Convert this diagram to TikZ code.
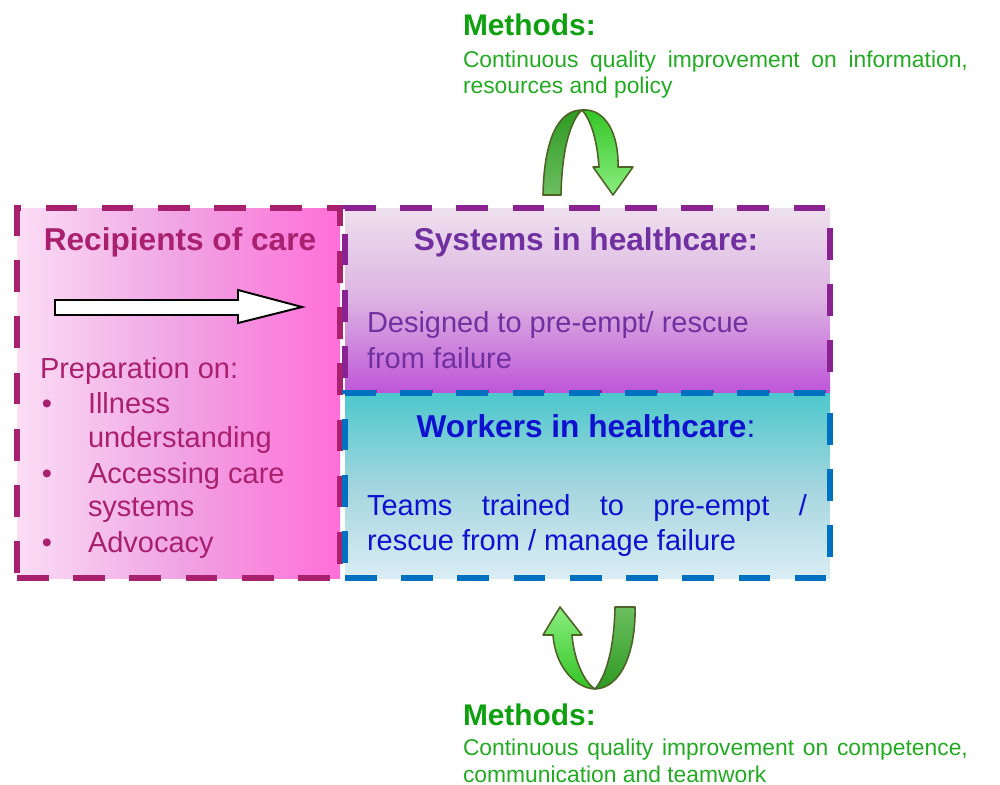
\documentclass[tikz,border=0pt]{standalone}
\usepackage{fontspec}
\setmainfont{Liberation Sans}
\usetikzlibrary{fit}
\definecolor{recb}{HTML}{A8206E}
\definecolor{recl}{HTML}{FBDDF5}
\definecolor{recm}{HTML}{F0A4E4}
\definecolor{recr}{HTML}{FF6FD8}
\definecolor{sysb}{HTML}{8A2291}
\definecolor{syst}{HTML}{7030A0}
\definecolor{sysu}{HTML}{EEE0EE}
\definecolor{sysm}{HTML}{DCB2E2}
\definecolor{sysd}{HTML}{BE55D8}
\definecolor{wrkb}{HTML}{0070C0}
\definecolor{wrkt}{HTML}{1010D0}
\definecolor{wrku}{HTML}{4CC8CC}
\definecolor{wrkm}{HTML}{A3D5DE}
\definecolor{wrkd}{HTML}{DAEDF4}
\definecolor{metg}{HTML}{0EA00E}
\definecolor{metd}{HTML}{22AA22}
\definecolor{rbln}{HTML}{4F6228}
\definecolor{rbdk}{HTML}{2E9A22}
\definecolor{rbmd}{HTML}{6CBF60}
\definecolor{rblt}{HTML}{33C424}
\definecolor{rbpl}{HTML}{8AEE80}
\newcommand{\fbody}{\fontsize{16.5}{19.8}\selectfont}
\newcommand{\fhead}{\fontsize{18}{21.6}\selectfont\bfseries}
\newcommand{\fmhead}{\fontsize{17}{20}\selectfont\bfseries}
\newcommand{\fmtxt}{\fontsize{13}{14.9}\selectfont}
\tikzset{
	every node/.style = { inner sep=0, outer sep=0 },
	dashbox/.style = { rectangle, line width=3pt, dash pattern=on 18pt off 14pt },
	recbox/.style = { dashbox, draw=recb, left color=recl, right color=recr, middle color=recm },
	sysbox/.style = { dashbox, draw=sysb, top color=sysu, bottom color=sysd, middle color=sysm },
	wrkbox/.style = { dashbox, draw=wrkb, top color=wrku, bottom color=wrkd, middle color=wrkm },
	head/.style = { font=\fhead, anchor=base },
	txt/.style = { font=\fbody, anchor=base west },
	blt/.style = { font=\fbody, anchor=base, text=recb },
	mhead/.style = { font=\fmhead, text=metg, anchor=base west },
	mtxt/.style = { font=\fmtxt, text=metd, anchor=base west },
	ribbon/.style = { draw=rbln, line width=0.9pt, line join=round },
}

\begin{document}
\begin{tikzpicture}[x=0.02cm,y=-0.02cm]
\useasboundingbox (0,0) rectangle (1000,784);

% boxes
\coordinate (rec-nw) at (17,208);
\coordinate (rec-se) at (340,578);
\coordinate (sys-nw) at (345,208);
\coordinate (sys-se) at (830,393);
\coordinate (wrk-nw) at (345,393);
\coordinate (wrk-se) at (830,578);
\node (rec) [recbox,fit=(rec-nw)(rec-se)] {};
\node (sys) [sysbox,fit=(sys-nw)(sys-se)] {};
\node (wrk) [wrkbox,fit=(wrk-nw)(wrk-se)] {};

% recipients
\node (rec-t) [head,text=recb] at (180,250) {Recipients of care};
\draw[fill=white,line width=1.1pt] (55,300) -- (238,300) -- (238,290) -- (302,307)
	-- (238,323) -- (238,315) -- (55,315) -- cycle;
\node (prep) [txt,text=recb] at (40,378) {Preparation on:};
\node (b1) [blt] at (47,413) {\textbullet};
\node (i1) [txt,text=recb] at (88,413) {Illness};
\node (i1b) [txt,text=recb] at (88,447) {understanding};
\node (b2) [blt] at (47,483) {\textbullet};
\node (i2) [txt,text=recb] at (88,483) {Accessing care};
\node (i2b) [txt,text=recb] at (88,516) {systems};
\node (b3) [blt] at (47,552) {\textbullet};
\node (i3) [txt,text=recb] at (88,552) {Advocacy};

% systems and workers
\node (sys-t) [head,text=syst] at (586,250) {Systems in healthcare:};
\node (sys-d1) [txt,text=syst] at (367,332) {Designed to pre-empt/ rescue};
\node (sys-d2) [txt,text=syst] at (367,368) {from failure};
\node (wrk-t) [head,text=wrkt] at (586,437) {Workers in healthcare\textmd{:}};
\node (wrk-d1) [txt,text=wrkt] at (367,515) {\makebox[8.8cm][s]{Teams trained to pre-empt /}};
\node (wrk-d2) [txt,text=wrkt] at (367,550) {rescue from / manage failure};

% methods
\node (m1-t) [mhead] at (463,36) {Methods:};
\node (m1-d1) [mtxt] at (463,68) {\makebox[10.1cm][s]{Continuous quality improvement on information,}};
\node (m1-d2) [mtxt] at (463,93) {resources and policy};
\node (m2-t) [mhead] at (463,725) {Methods:};
\node (m2-d1) [mtxt] at (463,755) {\makebox[10.1cm][s]{Continuous quality improvement on competence,}};
\node (m2-d2) [mtxt] at (463,782) {communication and teamwork};

% loop arrows
\shadedraw[ribbon,top color=rbdk,bottom color=rbmd] (543,195) .. controls (544,140) and (558,110) .. (582,110)
	.. controls (574,117) and (562,140) .. (561,195) -- cycle;
\shadedraw[ribbon,top color=rblt,bottom color=rbpl] (582,110) .. controls (606,108) and (619,135) .. (618,167)
	-- (633,167) -- (613,195) -- (593,167) -- (599,167) .. controls (597,140) and (591,120) .. (582,110) -- cycle;
\shadedraw[ribbon,top color=rbpl,bottom color=rblt] (560,607) -- (582,635) -- (572,635)
	.. controls (574,660) and (584,682) .. (595,689) .. controls (574,688) and (555,665) .. (553,635) -- (543,635) -- cycle;
\shadedraw[ribbon,top color=rbmd,bottom color=rbdk] (615,607) -- (635,607) .. controls (636,650) and (622,688) .. (595,689)
	.. controls (606,676) and (614,650) .. (615,607) -- cycle;

\end{tikzpicture}
\end{document}
